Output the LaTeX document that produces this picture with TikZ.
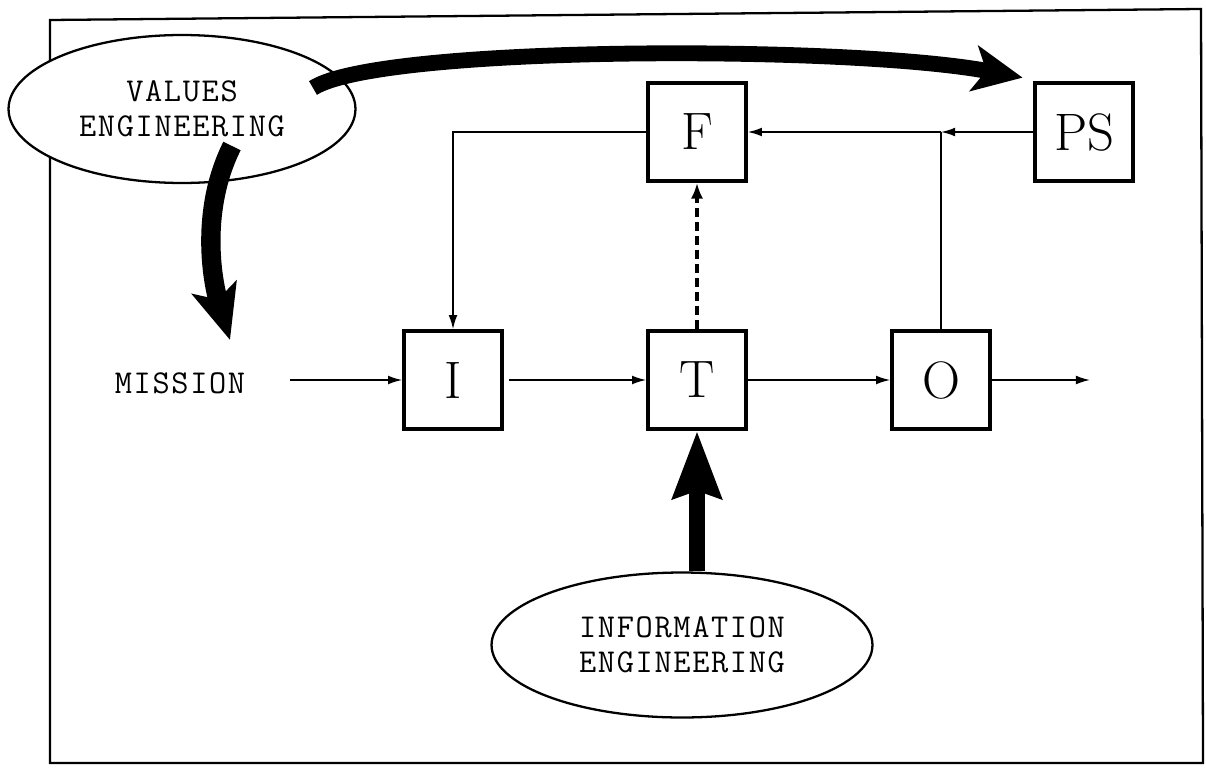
\documentclass[tikz,border=0pt]{standalone}
\usepackage{fontspec}
\newfontfamily\typer[LetterSpace=5]{Latin Modern Mono}
\usetikzlibrary{arrows.meta,shapes.geometric}

\begin{document}
\begin{tikzpicture}[x=0.02cm, y=-0.02cm,
	blk/.style={draw, line width=2.4pt, minimum size=1.95cm, inner sep=0pt, font=\fontsize{30}{30}\selectfont},
	cloud/.style={draw, ellipse, line width=1.3pt, fill=white, inner sep=0pt},
	tt/.style={font=\typer\fontsize{19}{20}\selectfont, align=center, inner sep=0pt},
	flow/.style={line width=0.9pt, -{Latex[length=8pt,width=5pt]}},
	fat/.style={line width=#1, -{Stealth[length=30pt,width=26pt,inset=6pt]}}]
	\useasboundingbox (0,0) rectangle (1206,767);
	% frame
	\draw[line width=1.3pt] (50,20) -- (1201,9) -- (1203,763) -- (50,763) -- cycle;
	% blocks
	\node[blk] (F) at (697,132) {F};
	\node[blk] (PS) at (1084,132) {PS};
	\node[blk] (I) at (453,380) {I};
	\node[blk] (T) at (697,380) {T};
	\node[blk] (O) at (941,380) {O};
	\node[tt] (mission) at (180,383) {MISSION};
	\coordinate (m0) at (290,380);
	\coordinate (out) at (1090,380);
	\coordinate (jct) at (941,132);
	% clouds
	\node[cloud, minimum width=6.94cm, minimum height=2.96cm, tt] (veng) at (182,109) {VALUES\\ENGINEERING};
	\node[cloud, minimum width=7.62cm, minimum height=2.9cm, tt] (ieng) at (682,645) {INFORMATION\\ENGINEERING};
	% flows
	\draw[flow] (m0) -- (I.west);
	\draw[flow] ([xshift=3pt]I.east) -- (T.west);
	\draw[flow] (T.east) -- (O.west);
	\draw[flow] (O.east) -- (out);
	\draw[flow] (PS.west) -- (jct);
	\draw[flow] (jct) -- (F.east);
	\draw[line width=0.9pt] (O.north) -- (jct);
	\draw[flow] (F.west) -| (I.north);
	\draw[line width=2.2pt, dash pattern=on 5pt off 3pt, -{Latex[length=9pt,width=7pt]}] (T.north) -- (F.south);
	% engineering arrows
	\draw[fat=9pt, -{Stealth[length=28pt,width=26pt,inset=7pt]}] (313,88) .. controls (380,45) and (850,45) .. ([shift={(-6pt,2pt)}]PS.north west);
	\draw[fat=11pt, -{Stealth[length=31pt,width=26pt,inset=7pt]}] (232,146) .. controls (200,210) and (212,280) .. (230,340);
	\draw[fat=9.5pt, -{Stealth[length=38pt,width=27pt,inset=4pt]}] (T |- ieng.north) -- (T.south);
\end{tikzpicture}
\end{document}
